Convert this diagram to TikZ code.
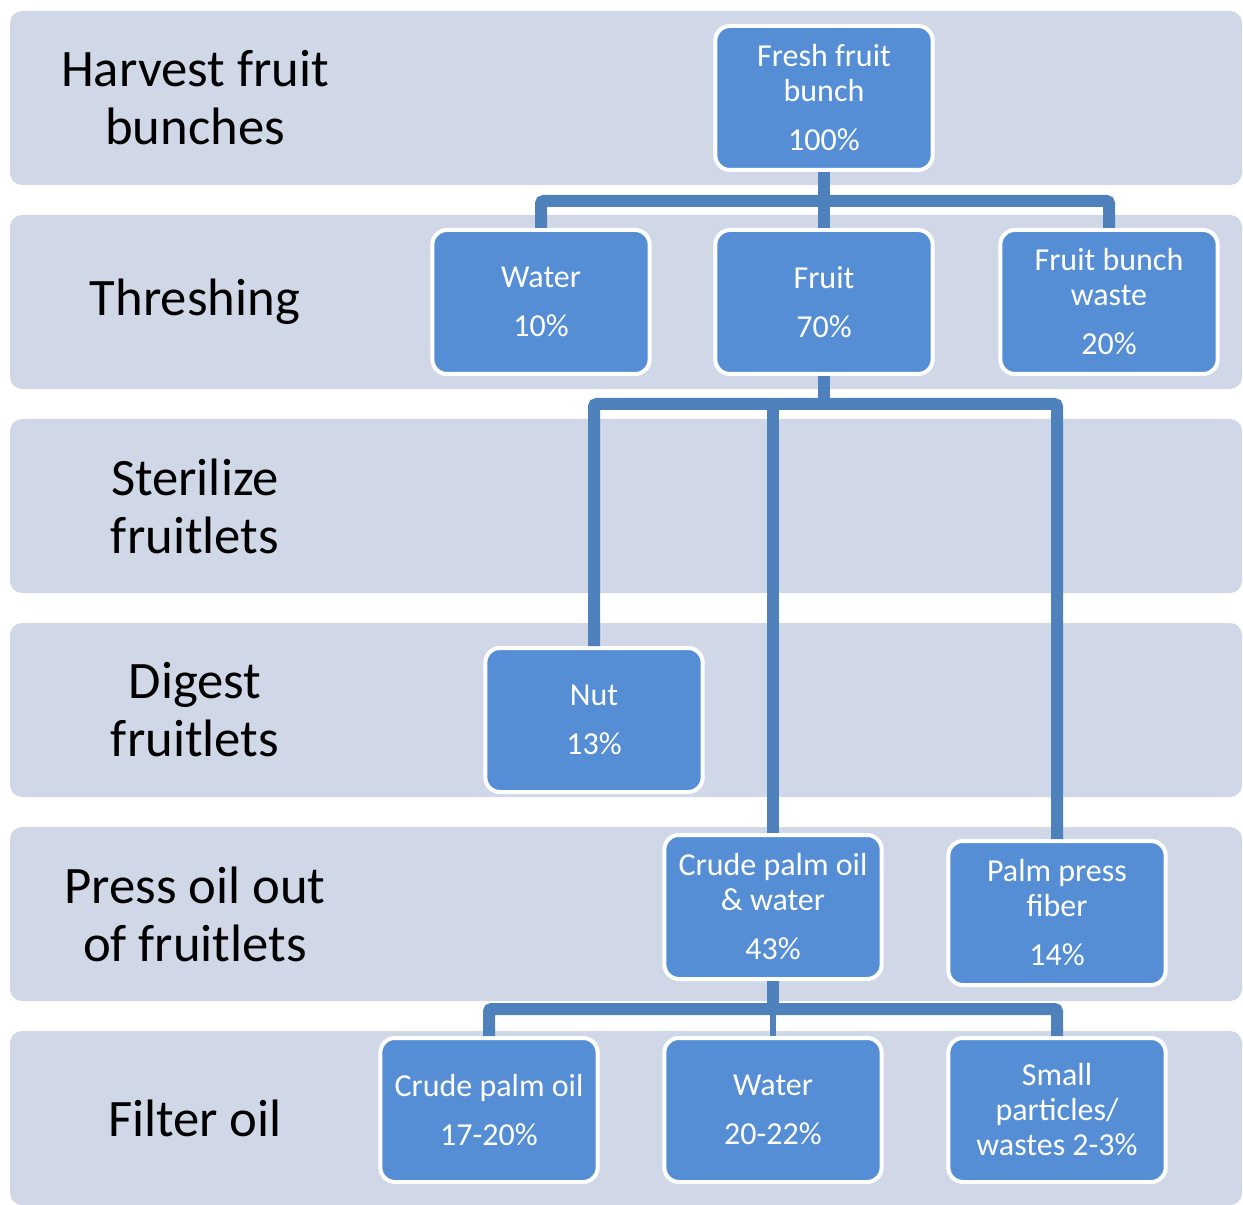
\documentclass[tikz,border=0pt]{standalone}
\usepackage{fontspec}
\setmainfont{Carlito}
\usepackage{tikz}
\usetikzlibrary{positioning}
\definecolor{bandcol}{HTML}{D0D8E8}
\definecolor{boxcol}{HTML}{558ED5}
\definecolor{linkcol}{HTML}{4F81BD}

\begin{document}
\begin{tikzpicture}[x=0.75pt,y=0.75pt,yscale=-1,xscale=1,
  band/.style={fill=bandcol,draw=none,rounded corners=9pt},
  stage/.style={font=\fontsize{39.5}{43.5}\selectfont,align=center,text=black},
  part/.style={fill=boxcol,draw=white,line width=3pt,rounded corners=11pt,
    minimum width=163pt,minimum height=108pt,align=center,text=white,
    font=\fontsize{24}{26.25}\selectfont,inner sep=2pt},
  link/.style={draw=linkcol,line width=9pt,rounded corners=2pt}]
\useasboundingbox (0,0) rectangle (1243,1205);

% Bands
\foreach \y in {11,215,419,623,827,1031}
  \path[band] (10,\y) rectangle (1242,\y+174);

% Stage labels
\node[stage] (harvest) at (195,98) {Harvest fruit\\bunches};
\node[stage] (thresh) at (195,302) {Threshing};
\node[stage] (steril) at (195,506) {Sterilize\\fruitlets};
\node[stage] (digest) at (195,710) {Digest\\fruitlets};
\node[stage] (press) at (195,914) {Press oil out\\of fruitlets};
\node[stage] (filter) at (195,1118) {Filter oil};

% Product boxes
\node[part] (fresh) at (824,98) {Fresh fruit\\bunch\\[10.5pt]100\%};
\node[part] (water) at (541,302) {Water\\[10.5pt]10\%};
\node[part] (fruit) at (824,302) {Fruit\\[10.5pt]70\%};
\node[part] (waste) at (1109,302) {Fruit bunch\\waste\\[10.5pt]20\%};
\node[part] (nut) at (594,720) {Nut\\[10.5pt]13\%};
\node[part] (cpow) at (773,907) {Crude palm oil\\\& water\\[10.5pt]43\%};
\node[part] (fiber) at (1057,913) {Palm press\\fiber\\[10.5pt]14\%};
\node[part] (cpo) at (489,1110) {Crude palm oil\\[10.5pt]17-20\%};
\node[part] (water2) at (773,1110) {Water\\[10.5pt]20-22\%};
\node[part] (small) at (1057,1110) {Small\\particles/\\wastes 2-3\%};

% Connectors
\draw[link] (fresh.south) -- (fruit.north);
\draw[link] (water.north) -- (water.north |- 0,201) -- (waste.north |- 0,201) -- (waste.north);
\draw[link] (fruit.south) -- (fruit.south |- 0,404);
\draw[link] (nut.north) -- (nut.north |- 0,404) -- (fiber.north |- 0,404) -- (fiber.north);
\draw[link] (cpow.north) -- (cpow.north |- 0,404);
\draw[link] (cpow.south) -- (cpow.south |- 0,1009);
\draw[link] (cpo.north) -- (cpo.north |- 0,1009) -- (small.north |- 0,1009) -- (small.north);
\draw[link,line width=4.5pt] (water2.north) -- (water2.north |- 0,1009);

\end{tikzpicture}
\end{document}
